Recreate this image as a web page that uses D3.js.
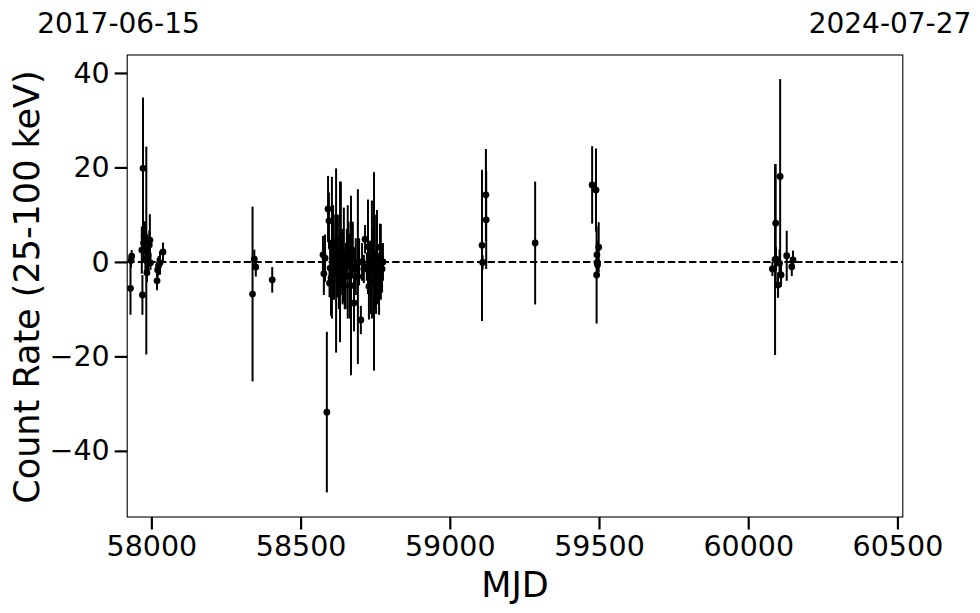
<!DOCTYPE html>
<html>
<head>
<meta charset="utf-8">
<script src="https://cdn.jsdelivr.net/npm/d3@7/dist/d3.min.js"></script>
<style>
  html, body { margin: 0; padding: 0; background: #fff; }
  svg { display: block; font-family: "DejaVu Sans", sans-serif; }
</style>
</head>
<body>
<svg id="chart" width="980" height="613"></svg>
<script>
// ---- data ----
const mjd = [
  57930, 57932, 57934, 57968, 57970, 57972, 57974, 57976, 57978, 57980, 57983,
  57985, 57987, 57990, 57993, 57995, 57997, 58019, 58021, 58024, 58029, 58039,
  58339, 58345, 58350, 58405,
  58575, 58578, 58582, 58588, 58592, 58595, 58597, 58599, 58602, 58605, 58609,
  58612, 58616, 58619, 58622, 58625, 58628, 58632, 58635, 58638, 58641, 58645,
  58648, 58651, 58655, 58658, 58661, 58665, 58669, 58672, 58675, 58679, 58682,
  58685, 58692, 58696, 58702, 58706, 58712, 58716, 58722, 58726, 58729, 58733,
  58736, 58739, 58743, 58746, 58749, 58753, 58756, 58759, 58763, 58766, 58769,
  58773, 58776,
  59108, 59110, 59121, 59122, 59286, 59477, 59490, 59492, 59493, 59494, 59495, 59499,
  60081, 60090, 60092, 60093, 60100, 60105, 60107, 60110, 60129, 60146, 60150
];
const rate = [
  -5.6, 0.3, 1.2, 2.5, -7.0, 19.8, 4.0, 5.5, 5.4, 0.5, 2.4,
  -2.3, 0.0, 1.5, 3.6, 4.6, -0.2, -4.0, -1.7, -0.8, -0.2, 2.1,
  -6.8, 0.6, -1.1, -3.8,
  1.5, -2.5, 0.8, -31.8, 11.2, 8.7, -4.5, -1.3, -3.4, 3.0, 2.0,
  -1.5, 4.0, 0.3, -2.5, 3.0, -4.0, 0.0, 5.0, 0.5, -1.0, 1.5,
  -5.0, -3.0, 2.0, 0.0, 3.5, -3.0, -5.0, 1.0, 2.5, -8.7, -1.5,
  -1.0, -3.1, 0.0, -12.3, 0.0, -1.5, 4.8, -1.0, 3.2, -5.2, 0.5,
  -4.0, 0.5, 2.0, -2.0, 0.0, -5.0, 1.0, -3.0, -5.2, 3.1, 0.0,
  -1.5, 0.0,
  3.5, -0.1, 14.2, 8.9, 4.0, 16.3, 15.2, -2.75, 1.5, -0.1, -0.6, 3.1,
  -1.5, 0.5, 8.2, 0.6, -4.9, -0.3, 18.1, -2.75, 1.3, -1.0, 0.4
];
const rateErr = [
  5.6, 1.5, 1.3, 5.0, 4.2, 15.0, 4.0, 3.0, 3.2, 3.0, 22.0,
  2.0, 2.0, 3.5, 3.0, 5.5, 1.5, 2.0, 2.5, 2.0, 2.5, 2.0,
  18.5, 2.0, 2.0, 2.7,
  4.0, 4.5, 5.0, 17.0, 7.0, 6.0, 3.0, 6.0, 8.0, 15.0, 10.0,
  6.5, 6.0, 19.5, 5.0, 7.0, 6.0, 17.0, 12.0, 6.0, 8.0, 10.0,
  5.0, 7.0, 5.0, 12.0, 5.0, 9.0, 19.0, 4.0, 6.0, 6.0, 4.0,
  6.0, 18.5, 5.0, 3.0, 4.0, 3.0, 3.0, 3.0, 10.0, 7.0, 4.0,
  7.0, 12.5, 5.0, 21.0, 10.0, 6.0, 10.0, 5.0, 6.0, 5.0, 8.0,
  5.0, 4.0,
  16.0, 1.5, 9.7, 10.4, 13.0, 8.2, 8.8, 10.3, 3.0, 2.0, 1.5, 5.3,
  1.5, 20.2, 12.5, 2.5, 2.7, 3.0, 20.6, 2.5, 5.3, 2.0, 2.0
];
const xTicks = [58000, 58500, 59000, 59500, 60000, 60500];
const yTicks = [-40, -20, 0, 20, 40];
const xDomain = [57919, 60518];
const yDomain = [-54, 43.8];
const dateLabels = ["2017-06-15", "2024-07-27"];
const xLabel = "MJD";
const yLabel = "Count Rate (25-100 keV)";

const points = mjd.map((m, i) => ({ x: m, y: rate[i], e: rateErr[i] }));

// ---- layout ----
const svg = d3.select("#chart");
const L = 127.2, R = 902.8, T = 55, B = 517;
const x = d3.scaleLinear().domain(xDomain).range([L, R]);
const y = d3.scaleLinear().domain(yDomain).range([B, T]);

// zero dashed line
svg.append("line")
  .attr("x1", L).attr("x2", R)
  .attr("y1", y(0)).attr("y2", y(0))
  .attr("stroke", "#000").attr("stroke-width", 2)
  .attr("stroke-dasharray", "7.4,3.2");

// error bars
svg.append("g").selectAll("line").data(points).join("line")
  .attr("x1", d => x(d.x)).attr("x2", d => x(d.x))
  .attr("y1", d => y(d.y - d.e)).attr("y2", d => y(d.y + d.e))
  .attr("stroke", "#000").attr("stroke-width", 2);

// markers
svg.append("g").selectAll("circle").data(points).join("circle")
  .attr("cx", d => x(d.x)).attr("cy", d => y(d.y))
  .attr("r", 3.4).attr("fill", "#000");

// frame
svg.append("rect")
  .attr("x", L).attr("y", T).attr("width", R - L).attr("height", B - T)
  .attr("fill", "none").attr("stroke", "#000").attr("stroke-width", 1.1);

// axes
const xAxis = d3.axisBottom(x).tickValues(xTicks).tickFormat(d3.format("d"))
  .tickSizeOuter(0).tickSizeInner(12.5).tickPadding(6);
const gx = svg.append("g").attr("transform", `translate(0,${B})`).call(xAxis);
gx.select(".domain").remove();
gx.selectAll(".tick line").attr("stroke-width", 2.2);
gx.selectAll(".tick text").attr("font-size", 28.5).attr("fill", "#000")
  .attr("font-family", "DejaVu Sans");

const yAxis = d3.axisLeft(y).tickValues(yTicks)
  .tickFormat(d => d < 0 ? "\u2212" + Math.abs(d) : String(d))
  .tickSizeOuter(0).tickSizeInner(12.5).tickPadding(5);
const gy = svg.append("g").attr("transform", `translate(${L},0)`).call(yAxis);
gy.select(".domain").remove();
gy.selectAll(".tick line").attr("stroke-width", 2.2);
gy.selectAll(".tick text").attr("font-size", 28.5).attr("fill", "#000")
  .attr("font-family", "DejaVu Sans");

// axis labels
svg.append("text").attr("x", (L + R) / 2).attr("y", 597)
  .attr("text-anchor", "middle").attr("font-size", 35).text(xLabel);
svg.append("text")
  .attr("transform", `translate(39,${(T + B) / 2 + 1}) rotate(-90)`)
  .attr("text-anchor", "middle").attr("font-size", 35).text(yLabel);

// top date labels
svg.append("text").attr("x", 118.5).attr("y", 33)
  .attr("text-anchor", "middle").attr("font-size", 28).text(dateLabels[0]);
svg.append("text").attr("x", 890).attr("y", 33)
  .attr("text-anchor", "middle").attr("font-size", 28).text(dateLabels[1]);
</script>
</body>
</html>
